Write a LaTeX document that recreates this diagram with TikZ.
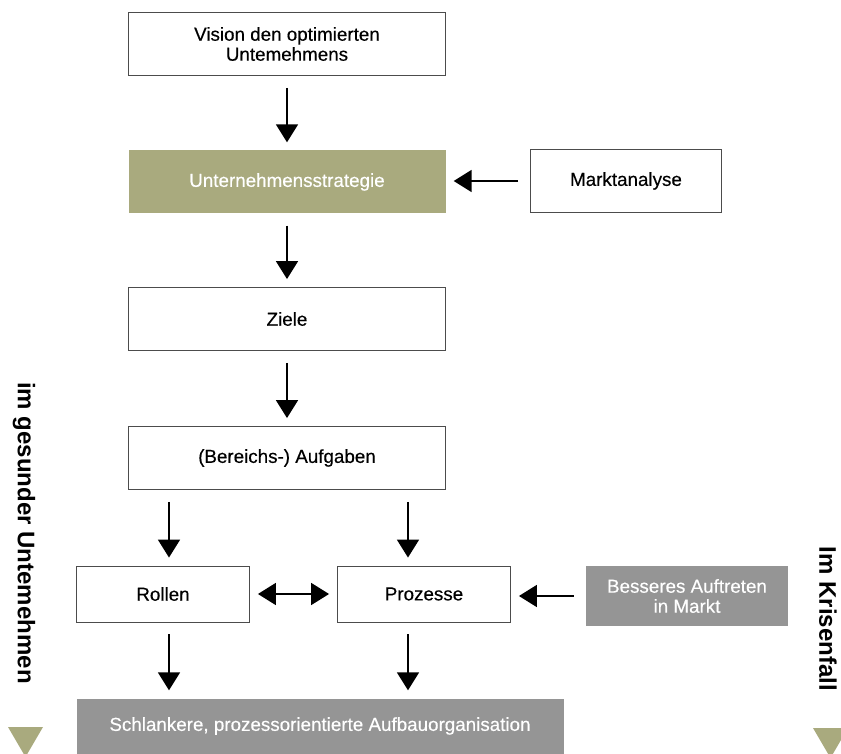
\documentclass[tikz,border=0pt]{standalone}
\usepackage{fontspec}
\setmainfont{Liberation Sans}
\newfontfamily\kastenfont[FakeBold=0.35]{Liberation Sans}
\usetikzlibrary{arrows.meta}
\definecolor{oliv}{RGB}{169,170,126}
\definecolor{grau}{RGB}{149,149,149}
\begin{document}
\begin{tikzpicture}[x=1pt,y=-1pt,>={Triangle[length=18pt,width=22pt]},
    font=\kastenfont\fontsize{18.8}{20}\selectfont,
    kasten/.style={draw=black!70,line width=0.9pt,inner sep=0pt,align=center},
    fkasten/.style={fill=#1,text=white,inner sep=0pt,align=center},
    pfeil/.style={->,line width=1.9pt,shorten <=12pt,shorten >=8pt},
    seite/.style={rotate=-90,font=\bfseries\fontsize{24}{28}\selectfont}]
    \useasboundingbox (0,0) rectangle (841,754);
    % Kaesten
    \node[kasten,minimum width=317pt,minimum height=63pt] (vision) at (287,44) {Vision den optimierten\\Untemehmens};
    \node[fkasten=oliv,minimum width=317pt,minimum height=63pt] (strat) at (287,182) {Unternehmensstrategie};
    \node[kasten,minimum width=191pt,minimum height=63pt] (markt) at (626,181) {Marktanalyse};
    \node[kasten,minimum width=317pt,minimum height=63pt] (ziele) at (287,319) {Ziele};
    \node[kasten,minimum width=317pt,minimum height=63pt] (bereich) at (287,458) {(Bereichs-) Aufgaben};
    \node[kasten,minimum width=173pt,minimum height=56pt] (rollen) at (163,594) {Rollen};
    \node[kasten,minimum width=173pt,minimum height=56pt] (proz) at (424,594) {Prozesse};
    \node[fkasten=grau,minimum width=202pt,minimum height=60pt] (bess) at (687,596) {Besseres Auftreten\\in Markt};
    \node[fkasten=grau,minimum width=487pt,minimum height=55pt] (schlank) at (320,726) {Schlankere, prozessorientierte Aufbauorganisation};
    \coordinate (li) at (169,0);
    \coordinate (re) at (408,0);
    % Pfeile
    \draw[pfeil] (vision) -- (strat);
    \draw[pfeil] (strat) -- (ziele);
    \draw[pfeil] (ziele) -- (bereich);
    \draw[pfeil] (markt.west) -- (markt.west -| strat.east);
    \draw[pfeil] (bereich.south -| li) -- (rollen.north -| li);
    \draw[pfeil] (bereich.south -| re) -- (proz.north -| re);
    \draw[pfeil,<->,shorten <=8pt] (rollen.east) -- (proz.west);
    \draw[pfeil] (bess.west) -- (bess.west -| proz.east);
    \draw[pfeil] (rollen.south -| li) -- (schlank.north -| li);
    \draw[pfeil] (proz.south -| re) -- (schlank.north -| re);
    % Seiten
    \node[seite] (gesund) at (24,533) {im gesunder Untemehmen};
    \node[seite] (krise) at (828,619) {Im Krisenfall};
    \fill[oliv] (8,727) -- (43,727) -- (25.5,757) -- cycle (813,728) -- (848,728) -- (830.5,758) -- cycle;
\end{tikzpicture}
\end{document}
